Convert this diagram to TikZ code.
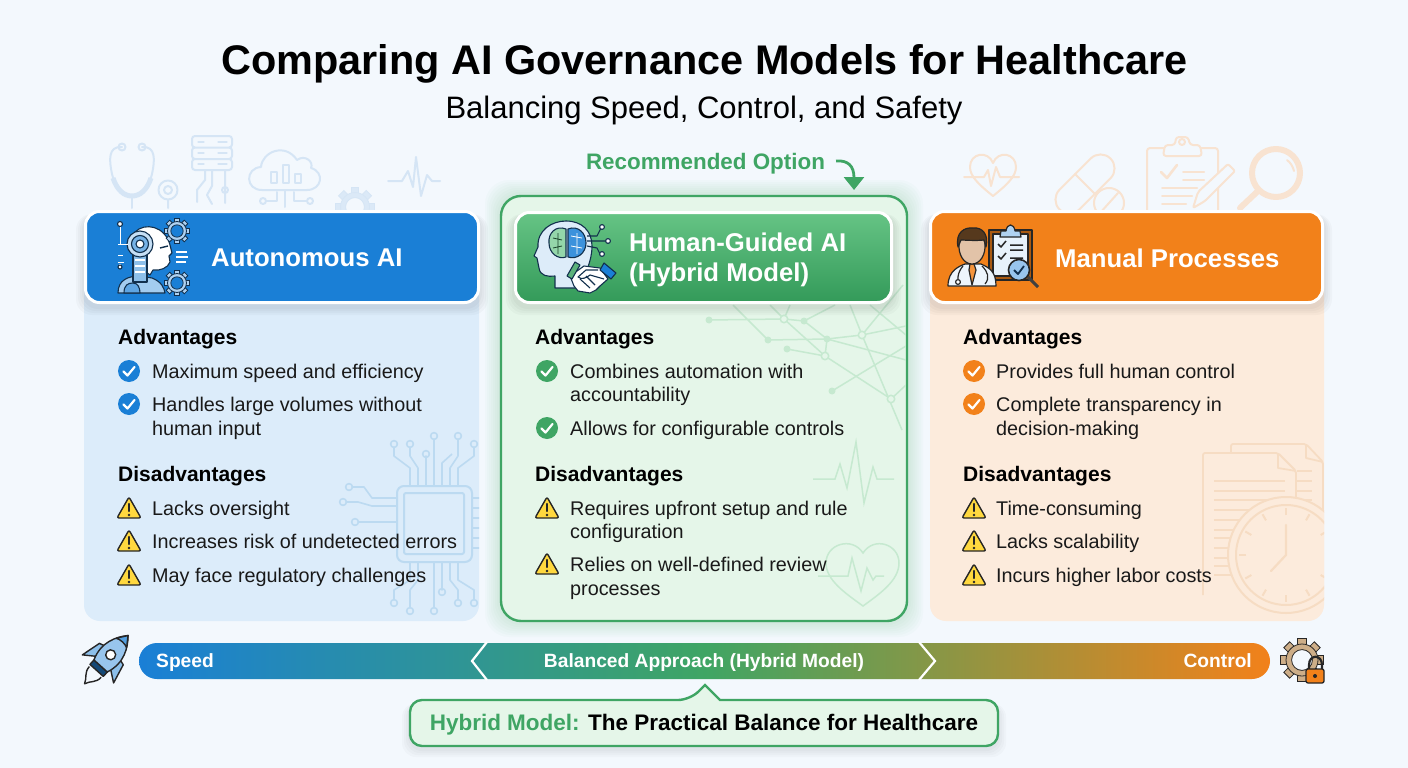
\documentclass[tikz,border=0pt]{standalone}
\usepackage{fontspec}
\setmainfont{Liberation Sans}
\usetikzlibrary{positioning,arrows.meta}
\definecolor{pagebg}{HTML}{F3F8FD}
\definecolor{autoblue}{HTML}{1A7FD6}
\definecolor{autopale}{HTML}{DCECFA}
\definecolor{hybgreen}{HTML}{3FA564}
\definecolor{hybtop}{HTML}{66C485}
\definecolor{hybbottom}{HTML}{339A59}
\definecolor{hybpale}{HTML}{E5F6E9}
\definecolor{manorange}{HTML}{F2811A}
\definecolor{manpale}{HTML}{FCEBDC}
\definecolor{decoblue}{HTML}{D5E5F5}
\definecolor{decoorange}{HTML}{F8E3D1}
\definecolor{chipblue}{HTML}{BCDAF1}
\definecolor{netgreen}{HTML}{C6E9D0}
\definecolor{docorange}{HTML}{F6DCC3}
\definecolor{darkink}{HTML}{12304D}
\definecolor{warnyellow}{HTML}{FFD83F}
\definecolor{geartan}{HTML}{CDAE88}
\tikzset{
 panel/.style={rectangle,rounded corners=16,inner sep=0},
 header/.style={rectangle,rounded corners=14,draw=white,line width=3,inner sep=0},
 headtext/.style={anchor=west,inner sep=0,text=white,align=left,font=\fontsize{25.7}{30}\selectfont\bfseries},
 subhead/.style={anchor=west,inner sep=0,text height=17,text depth=3,font=\fontsize{21}{24}\selectfont\bfseries},
 item/.style={anchor=west,inner sep=0,text height=17,text depth=3,text=black!90,font=\fontsize{19.8}{24}\selectfont},
 bartext/.style={inner sep=0,text height=15,text depth=2,text=white,font=\fontsize{19.2}{22}\selectfont\bfseries},
 deco/.style={line width=2,line cap=round,line join=round},
 pics/tickmark/.style={code={
  \fill[#1] (0,0) circle (11);
  \draw[white,line width=2.2,line cap=round,line join=round] (-5.5,0.5)--(-1.5,4.5)--(5.5,-4);}},
 pics/warnmark/.style={code={
  \filldraw[fill=warnyellow,draw=black!85,line width=1.4,line join=round,rounded corners=2] (0,-11)--(12,10)--(-12,10)--cycle;
  \draw[black!85,line width=2.2,line cap=round] (0,-4)--(0,3);
  \fill[black!85] (0,7) circle (1.4);}},
 pics/cogwheel/.style 2 args={code={
  \foreach \a in {0,45,...,315}
   \filldraw[draw=#1,fill=#2,line width=0.8,rotate=\a] (-2.6,-13.5) rectangle (2.6,-8);
  \filldraw[draw=#1,fill=#2,line width=0.8,even odd rule] (0,0) circle (10) circle (6.5);}},
}
\begin{document}
\begin{tikzpicture}[x=1pt,y=-1pt]
 \useasboundingbox (0,0) rectangle (1408,768);
 \fill[pagebg] (0,0) rectangle (1408,768);

 \node[inner sep=0,font=\fontsize{41.4}{48}\selectfont\bfseries] (title) at (704.5,63.5) {Comparing AI Governance Models for Healthcare};
 \node[inner sep=0,font=\fontsize{31}{36}\selectfont] (subtitle) at (704,110) {Balancing Speed, Control, and Safety};

 \begin{scope}[decoblue,deco]
  \draw (122,147) .. controls (108,146) and (109,160) .. (112,174) .. controls (116,190) and (124,196) .. (132,196) .. controls (140,196) and (148,190) .. (152,174) .. controls (155,160) and (156,146) .. (142,147);
  \draw[line width=5,line cap=butt] (113,178) .. controls (117,190) and (124,196) .. (132,196) .. controls (140,196) and (147,190) .. (151,178);
  \draw (132,196)--(132,208);
  \draw (122,147) circle (3.5) (142,147) circle (3.5);
  \draw (168,190) circle (9.5) (168,190) circle (4) (168,200)--(168,208);
  \draw[rounded corners=3] (192,136) rectangle (232,147.5) (192,147.5) rectangle (232,159) (192,159) rectangle (232,170);
  \foreach \y in {142,153,164} \draw[line width=1.2] (198,\y)--(204,\y) (218,\y)--(227,\y);
  \draw (205,171)--(205,180)--(197,190)--(197,202) (212,171)--(212,186)--(207,195)--(212,204) (225,171)--(225,203);
  \draw (225,190) circle (3);
  \draw (262,190) .. controls (245,190) and (245,168) .. (261,167) .. controls (262,152) and (285,142) .. (297,160) .. controls (305,154) and (314,162) .. (311,168) .. controls (325,172) and (322,190) .. (307,190) -- cycle;
  \draw (271,172) rectangle (277,183) (283,165) rectangle (289,183) (295,174) rectangle (301,183);
  \draw (285,190)--(285,207) (277,192)--(277,201)--(266,201) (294,192)--(294,201)--(306,201);
  \draw (263,201) circle (3) (310,201) circle (3);
  \draw (388,181)--(402,181)--(408,171)--(413,187)--(416,157)--(421,196)--(427,175)--(432,181)--(440,181);
 \end{scope}
 \pic[scale=1.45] at (355,207) {cogwheel={decoblue}{decoblue!80!pagebg}};

 \begin{scope}[decoorange,deco]
  \draw (993,196) .. controls (978,184) and (970,176) .. (970,167) .. controls (970,153) and (988,150) .. (993,163) .. controls (998,150) and (1016,153) .. (1016,167) .. controls (1016,176) and (1008,184) .. (993,196) -- cycle;
  \draw (964,177)--(984,177)--(988,170)--(991,186)--(996,167)--(1000,177)--(1019,177);
  \draw[rotate around={45:(1085,184)},rounded corners=14] (1049,170) rectangle (1121,198);
  \draw[rotate around={45:(1085,184)}] (1085,170)--(1085,198);
  \draw[fill=pagebg] (1109,203) circle (15);
  \draw (1100,213)--(1118,193);
  \draw[rounded corners=3] (1147,212)--(1147,148)--(1218,148)--(1218,212);
  \draw[rounded corners=3,fill=pagebg] (1163,156)--(1165,145)--(1175,145)--(1176,137)--(1188,137)--(1190,145)--(1200,145)--(1202,156)--cycle;
  \draw (1182,142) circle (3);
  \draw[line width=2.6] (1161,172)--(1167,178)--(1177,165);
  \draw (1183,172)--(1204,172) (1183,180)--(1204,180) (1162,188)--(1197,188) (1162,196)--(1192,196) (1162,204)--(1186,204);
  \draw[fill=pagebg,rounded corners=2] (1193,208)--(1198,192)--(1228,164)--(1235,171)--(1205,201)--cycle;
  \draw[line width=6] (1276,173) circle (24);
  \draw (1287,160) .. controls (1291,163) and (1293,167) .. (1294,171);
  \draw[line width=6] (1258,191)--(1240,208);
 \end{scope}

 \foreach \d in {16,14,12,10,8,6,4,2}
  \fill[hybgreen,opacity=0.022,rounded corners=24] ({501-\d},{196-\d}) rectangle ({907+\d},{621+\d});

 \node[panel,fill=autopale,minimum width=395,minimum height=370] (autopanel) at (281.5,436) {};
 \node[panel,fill=manpale,minimum width=394,minimum height=370] (manpanel) at (1127,436) {};
 \node[panel,fill=hybpale,draw=hybgreen,line width=2.4,rounded corners=20,minimum width=406,minimum height=425] (hybpanel) at (704,408.5) {};

 \begin{scope}
  \clip[rounded corners=16] (84,251) rectangle (479,621);
  \begin{scope}[chipblue,line width=1.6,line join=round]
   \draw[rounded corners=7,line width=2] (397,486) rectangle (472,562);
   \draw[rounded corners=2,line width=2] (404,493) rectangle (464,554);
   \foreach \a/\b/\c in {410/394/444,418/410/444,426/426/454,434/434/436,450/458/436,458/474/444}
    \draw (\a,486)--(\a,468)--(\b,456)--(\b,\c+3) (\b,\c) circle (3.4);
   \draw (442,486)--(442,463)--(452,454);
   \foreach \a/\b/\c in {410/394/603,418/410/611,434/434/611,442/442/592,450/458/603,458/474/603}
    \draw (\a,562)--(\a,580)--(\b,590)--(\b,\c-3) (\b,\c) circle (3.4);
   \foreach \a/\b/\c in {498/349/487,506/343/502,522/355/522}
    \draw (397,\a)--(372,\a)--(\b+15,\c)--(\b+4,\c) (\b,\c) circle (3.4);
   \foreach \y in {498,508,518,528,538,548} \draw (472,\y)--(482,\y);
  \end{scope}
 \end{scope}

 \begin{scope}
  \clip[rounded corners=20] (502,197) rectangle (906,620);
  \begin{scope}[netgreen,line width=1.5]
   \draw (709,320)--(784,319)--(804,321) (733,305)--(768,340)--(827,339)--(862,335)--(906,326);
   \draw (787,349)--(825,356)--(784,319)--(770,305) (784,319)--(790,305) (804,321)--(835,305);
   \draw (804,321)--(827,339)--(906,360) (827,339)--(825,356)--(891,399)--(906,385);
   \draw (832,391)--(906,346) (862,335)--(850,305) (862,335)--(903,285) (870,305)--(906,335) (862,335)--(902,430);
   \foreach \x/\y in {709/320,768/340,787/349,832/391,804/321,827/339} \fill (\x,\y) circle (3.5);
   \foreach \x/\y in {784/319,825/356,862/335,891/399} \filldraw[fill=hybpale] (\x,\y) circle (3.7);
   \draw (813,479)--(835,479)--(840,464)--(847,488)--(856,442)--(864,503)--(873,467)--(877,479)--(894,479);
   \draw (863,606) .. controls (845,593) and (826,580) .. (826,563) .. controls (826,544) and (852,536) .. (863,553) .. controls (874,536) and (899,544) .. (899,563) .. controls (899,580) and (881,593) .. (863,606) -- cycle;
   \draw (818,576)--(848,576)--(852,558)--(861,591)--(867,568)--(873,580)--(876,576)--(884,576);
  \end{scope}
 \end{scope}

 \begin{scope}
  \clip[rounded corners=16] (930,251) rectangle (1324,621);
  \begin{scope}[docorange,line width=1.8,line join=round]
   \draw[rounded corners=2] (1231,453)--(1231,444)--(1306,444)--(1323,462)--(1323,520);
   \draw (1306,444)--(1306,458)--(1323,462);
   \draw[rounded corners=2,fill=manpale] (1203,595)--(1203,453)--(1278,453)--(1296,471)--(1296,510);
   \draw (1278,453)--(1278,468)--(1296,471);
   \foreach \y in {481,491,500,510,520,530,538,548,558,566,575} \draw (1214,\y)--(1285,\y);
   \foreach \y in {471,481,491,500} \draw (1297,\y)--(1312,\y);
   \fill[manpale] (1286,555) circle (58);
   \draw[line width=2] (1286,555) circle (58) (1286,555) circle (50);
   \foreach \a in {0,30,...,330} \draw[rotate around={\a:(1286,555)},line width=2] (1286,515)--(1286,508);
   \draw[line width=2.2,line cap=round] (1286,525)--(1286,555)--(1271,571);
  \end{scope}
 \end{scope}

 \foreach \d in {8,6,4,2}
  \fill[black,opacity=0.025,rounded corners=16] ({84-\d},{214}) rectangle ({480+\d},{307+\d})
   ({929-\d},214) rectangle ({1324+\d},{307+\d}) ({514-\d},214) rectangle ({893+\d},{307+\d});
 \node[header,fill=autoblue,minimum width=393,minimum height=91] (autohead) at (282,257) {};
 \node[header,top color=hybtop,bottom color=hybbottom,minimum width=376,minimum height=90] (hybhead) at (703.5,257.5) {};
 \node[header,fill=manorange,minimum width=392,minimum height=91] (manhead) at (1126.5,257) {};
 \node[headtext] (autotitle) at (211,258) {Autonomous AI};
 \node[headtext] (hybtitle) at (629,259.5) {Human-Guided AI\\(Hybrid Model)};
 \node[headtext] (mantitle) at (1055,258) {Manual Processes};

 \begin{scope}[line join=round,darkink,line width=1.1]
  \filldraw[fill=autoblue!40!white] (118,293) .. controls (118,280) and (128,276) .. (140,276) -- (152,278) .. controls (162,282) and (164,288) .. (165,293) -- cycle;
  \draw[fill=autoblue!70!white] (124,293) .. controls (124,285) and (128,283) .. (133,283) .. controls (138,283) and (140,288) .. (140,293) -- cycle;
  \filldraw[fill=white] (135,232) .. controls (145,222) and (165,226) .. (170,245) -- (172,253) -- (169,256) -- (170,262) .. controls (168,268) and (160,271) .. (153,270) -- (150,275) -- (133,262) -- cycle;
  \filldraw[fill=autoblue!50!white] (133,255)--(147,255)--(147,282)--(133,282)--cycle;
  \foreach \y in {260,266,272} \draw[white,line width=1.4] (135,\y)--(145,\y);
  \filldraw[fill=autoblue!25!white] (140,244) circle (13);
  \filldraw[fill=autoblue!60!white] (140,244) circle (8.5);
  \filldraw[fill=white] (140,244) circle (4);
  \draw[line width=1.4] (160,248)--(168,246);
  \draw[white,line width=1] (120,223)--(120,245) (118,244)--(128,244) (118,255)--(123,255) (118,262)--(124,262);
  \draw[white] (120,268)--(120,264) (176,252)--(187,252) (176,257)--(188,257) (176,262)--(186,262);
  \filldraw[fill=white] (120,224) circle (2.5);
  \filldraw[fill=white] (120,267) circle (2);
 \end{scope}
 \pic[scale=0.95] at (177,231) {cogwheel={darkink}{autoblue!35!white}};
 \pic[scale=0.95] at (177,283) {cogwheel={darkink}{autoblue!35!white}};

 \begin{scope}[line join=round,darkink,line width=1.1]
  \filldraw[fill=white!85!autoblue] (555,288) -- (555,276) .. controls (548,277) and (540,276) .. (539,268) -- (537,258) -- (534,256) -- (538,247) .. controls (537,230) and (552,221) .. (566,221) .. controls (582,221) and (592,231) .. (592,246) .. controls (592,262) and (585,270) .. (583,288) -- cycle;
  \filldraw[fill=hybtop!70!white] (566,229) .. controls (556,225) and (548,233) .. (549,243) .. controls (549,253) and (558,260) .. (566,257) -- cycle;
  \filldraw[fill=autoblue!85!white] (568,229) .. controls (578,225) and (586,233) .. (586,243) .. controls (586,253) and (577,260) .. (568,257) -- cycle;
  \draw[hybgreen!40!black,line width=0.8] (553,238)--(562,240) (553,248)--(562,246) (558,233)--(558,254);
  \draw[white,line width=0.8] (571,236)--(582,238) (571,246)--(582,248) (577,233)--(577,254);
  \draw (587,236)--(597,236)--(601,228) (587,241)--(605,241) (587,246)--(597,248)--(600,254);
  \filldraw[fill=white] (602,227) circle (2.4) (608,241) circle (2.4) (602,254) circle (2.4);
  \filldraw[fill=white] (570,276) -- (584,266) -- (600,268) -- (608,279) -- (600,286) -- (596,290) -- (590,293) -- (584,292) -- (578,291) -- (574,286) -- cycle;
  \draw (580,279)--(590,288) (586,276)--(595,285) (598,270)--(586,270)--(578,277) .. controls (582,280) and (586,278) .. (590,275) -- (604,279);
  \filldraw[fill=hybgreen!85!white] (567,276) -- (575,262) -- (580,265) -- (572,279) -- cycle;
  \filldraw[fill=autoblue] (604,263) -- (616,273) -- (611,279) -- (600,270) -- cycle;
 \end{scope}

 \begin{scope}[line join=round,black!85,line width=1.2]
  \filldraw[fill=manorange!70!black] (989,230) rectangle (1032,280);
  \filldraw[fill=white!90!autoblue] (993,234) rectangle (1028,276);
  \filldraw[fill=autoblue!35!white] (1000,237) -- (1001,231) -- (1006,231) .. controls (1007,223) and (1014,223) .. (1015,231) -- (1020,231) -- (1021,237) -- cycle;
  \draw[line width=1.5] (998,244)--(1001,247)--(1006,241) (998,256)--(1001,259)--(1006,253) (1010,245)--(1023,245) (1010,250)--(1023,250) (1010,258)--(1023,258);
  \filldraw[fill=white!92!autoblue] (948,286) .. controls (948,270) and (960,266) .. (965,264) -- (981,264) .. controls (990,268) and (996,272) .. (996,286) -- cycle;
  \filldraw[fill=manorange!85!white] (970,264)--(974,264)--(976,270)--(972,285)--(969,270)--cycle;
  \draw (963,266) .. controls (958,272) and (958,276) .. (958,279) (982,266) .. controls (988,272) and (990,278) .. (985,284);
  \filldraw[fill=white] (958,282) circle (2.4);
  \filldraw[fill=manorange!30!white!90!black] (959,243) .. controls (959,233) and (985,233) .. (985,243) .. controls (986,255) and (980,264) .. (972,264) .. controls (964,264) and (958,255) .. (959,243) -- cycle;
  \filldraw[fill=brown!45!black] (958,247) .. controls (955,232) and (965,227) .. (973,228) .. controls (982,227) and (989,234) .. (986,247) -- (984,240) .. controls (975,241) and (965,240) .. (961,240) -- cycle;
  \draw[line width=3,black!75] (1028,277)--(1038,287);
  \filldraw[fill=autoblue!45!white,line width=1.6] (1019,270) circle (10.5);
  \draw[darkink,line width=1.8] (1014,270)--(1018,274)--(1024,266);
 \end{scope}

 \node[inner sep=0,text=hybgreen,text height=17,text depth=3,font=\fontsize{22.4}{26}\selectfont\bfseries] (recommend) at (705.5,162) {Recommended Option};
 \coordinate (recstart) at (836,161);
 \coordinate (recarrow) at (854,190);
 \draw[hybgreen,line width=2.8,-{Triangle[length=13,width=20]}] (recstart) .. controls (848,160) and (854,166) .. (recarrow);

 \foreach \x/\t in {118/auto,535/hyb,963/man} \node[subhead] (\t adv) at (\x,337) {Advantages};
 \foreach \x/\t in {118/auto,535/hyb,963/man} \node[subhead] (\t dis) at (\x,474) {Disadvantages};

 \foreach \y in {371,404} \pic at (129,\y) {tickmark=autoblue};
 \foreach \y in {508,541,575} \pic at (129,\y) {warnmark};
 \foreach \y/\t in {371/Maximum speed and efficiency,404/Handles large volumes without,428/human input,508/Lacks oversight,541/Increases risk of undetected errors,575/May face regulatory challenges}
  \node[item] (auto\y) at (152,\y) {\t};

 \foreach \y in {371,428} \pic at (547,\y) {tickmark=hybgreen};
 \foreach \y in {508,564} \pic at (547,\y) {warnmark};
 \foreach \y/\t in {371/Combines automation with,394/accountability,428/Allows for configurable controls,508/Requires upfront setup and rule,531/configuration,564/Relies on well-defined review,588/processes}
  \node[item] (hyb\y) at (570,\y) {\t};

 \foreach \y in {371,404} \pic at (974,\y) {tickmark=manorange};
 \foreach \y in {508,541,575} \pic at (974,\y) {warnmark};
 \foreach \y/\t in {371/Provides full human control,404/Complete transparency in,428/decision-making,508/Time-consuming,541/Lacks scalability,575/Incurs higher labor costs}
  \node[item] (man\y) at (996,\y) {\t};

 \node[rectangle,rounded corners=18,inner sep=0,minimum width=1131,minimum height=36,left color=autoblue,right color=manorange,middle color=hybgreen] (balancebar) at (704.5,661) {};
 \draw[white,line width=2.2] (487,642)--(472,661)--(487,680);
 \draw[white,line width=2.2] (919,642)--(935,661)--(919,680);
 \node[bartext,anchor=west] (speed) at (156,661) {Speed};
 \node[bartext] (balanced) at (704,661) {Balanced Approach (Hybrid Model)};
 \node[bartext,anchor=east] (control) at (1252,661) {Control};

 \begin{scope}[rotate around={-42:(106,660)},line join=round,black!85,line width=1.4]
  \filldraw[fill=autoblue!50!white] (96,664) -- (85,672) -- (90,652) -- (97,650) -- cycle;
  \filldraw[fill=autoblue!50!white] (116,664) -- (127,672) -- (122,652) -- (115,650) -- cycle;
  \draw (98,676) .. controls (98,684) and (104,686) .. (106,692) .. controls (108,686) and (114,684) .. (114,676);
  \filldraw[fill=darkink!70!autoblue] (97,668) rectangle (115,674);
  \filldraw[fill=autoblue!45!white] (97,668) .. controls (90,650) and (98,636) .. (106,627) .. controls (114,636) and (122,650) .. (115,668) -- cycle;
  \filldraw[fill=white] (106,653) circle (5);
  \filldraw[fill=autoblue!75!white] (99,637) .. controls (101,634) and (104,630) .. (106,627) .. controls (108,630) and (111,634) .. (113,637) .. controls (109,635) and (103,635) .. (99,637) -- cycle;
 \end{scope}

 \pic[scale=1.6] at (1302,660) {cogwheel={black!85}{geartan}};
 \begin{scope}[line join=round,black!85,line width=1.3]
  \draw[line width=2.2] (1309,670) -- (1309,665) .. controls (1309,654) and (1322,654) .. (1322,665) -- (1322,670);
  \filldraw[fill=manorange,rounded corners=2] (1306,669) rectangle (1324,683);
  \fill (1315,676) circle (2);
 \end{scope}

 \foreach \d in {8,6,4,2}
  \fill[black,opacity=0.02,rounded corners=14] ({410-\d},{703}) rectangle ({998+\d},{749+\d});
 \draw[hybgreen,line width=2.4,fill=hybpale,rounded corners=12] (410,724) -- (410,700) -- (690,700) [sharp corners] -- (705,685) -- (720,700) [rounded corners=12] -- (998,700) -- (998,746) -- (410,746) -- cycle;
 \node[inner sep=0,text height=17,text depth=3,font=\fontsize{22.5}{28}\selectfont\bfseries] (practical) at (704,723) {\textcolor{hybgreen}{Hybrid Model:} The Practical Balance for Healthcare};
\end{tikzpicture}
\end{document}
